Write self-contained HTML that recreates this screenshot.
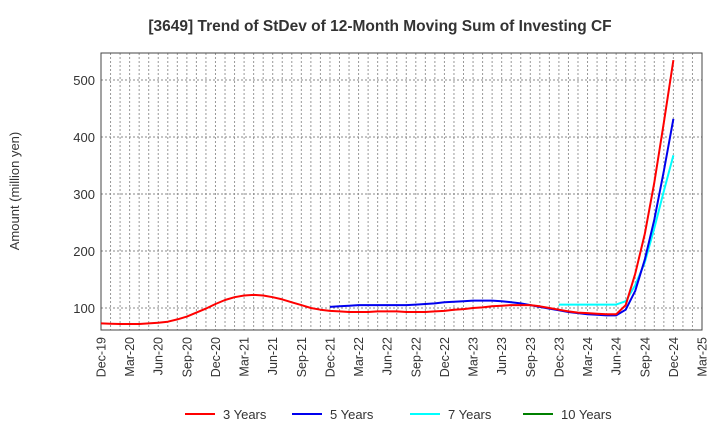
<!DOCTYPE html>
<html><head><meta charset="utf-8"><style>
body{margin:0;background:#fff;font-family:"Liberation Sans",Arial,sans-serif}
</style></head><body>
<svg id="chart" width="720" height="440" xmlns="http://www.w3.org/2000/svg" font-family="Liberation Sans, Arial, sans-serif">
<text x="380" y="31" text-anchor="middle" font-size="15.5" font-weight="bold" fill="#333">[3649]  Trend of StDev of 12-Month Moving Sum of Investing CF</text>
<text transform="translate(19,191) rotate(-90)" text-anchor="middle" font-size="13" fill="#333">Amount (million yen)</text>
<g id="grid"></g><g id="axes"></g><g id="series"></g><g id="legend"></g>
</svg>
<script>
const xLabels=["Dec-19","Mar-20","Jun-20","Sep-20","Dec-20","Mar-21","Jun-21","Sep-21","Dec-21","Mar-22","Jun-22","Sep-22","Dec-22","Mar-23","Jun-23","Sep-23","Dec-23","Mar-24","Jun-24","Sep-24","Dec-24","Mar-25"];
const yTicks=[100,200,300,400,500];
const s3=[73,72.5,72,72,72,73,74,76,80,85,92,99,107,114,119,122,123,122,119,115,110,105,100,97,95,94,93,93,93,94,94,94,93,93,93,94,95,97,98,100,101,103,104,105,105,105,103,100,97,94,92,91,90,89,89,105,160,230,320,425,535];
const s5=[102,103,104,105,105,105,105,105,105,106,107,108,110,111,112,113,113,113,112,110,108,105,102,99,96,93,91,89,88,87,87,97,130,185,255,340,432];
const s5Start=24;
const s7=[106,106,106,106,106,106,106,112,140,180,240,305,368];
const s7Start=48;
const L=101,R=702,T=53,B=330;
const x=m=>L+m*(R-L)/63;
const y=v=>365-v*0.57;
const NS="http://www.w3.org/2000/svg";
function mk(t,a,p){const e=document.createElementNS(NS,t);for(const k in a)e.setAttribute(k,a[k]);p.appendChild(e);return e;}
const g=document.getElementById('grid'),ax=document.getElementById('axes'),sg=document.getElementById('series'),lg=document.getElementById('legend');
for(let m=1;m<63;m++){const l=mk('line',{x1:x(m),x2:x(m),y1:T,y2:B,stroke:'#999','stroke-dasharray':'2,2','stroke-width':1},g);

}
yTicks.forEach(v=>{const l=mk('line',{x1:L,x2:R,y1:y(v),y2:y(v),stroke:'#888','stroke-dasharray':'2,2'},g);


const t=mk('text',{x:L-6,y:y(v)+5,'text-anchor':'end','font-size':13,fill:'#333'},ax);t.textContent=v;

});
const fr=mk('rect',{x:L,y:T,width:R-L,height:B-T,fill:'none',stroke:'#444','stroke-width':1},ax);


xLabels.forEach((s,i)=>{const px=x(i*3);const t=mk('text',{transform:`translate(${px+4.5},${B+7}) rotate(-90)`,'text-anchor':'end','font-size':12.5,fill:'#333'},ax);t.textContent=s;

});
function line(arr,start,col,name){const d=arr.map((v,i)=>(i?'L':'M')+x(start+i).toFixed(1)+','+y(v).toFixed(1)).join('');
const p=mk('path',{d:d,fill:'none',stroke:col,'stroke-width':2,'stroke-linejoin':'round'},sg);

}
line(s7,s7Start,'#00ffff','series-7-years');
line(s5,s5Start,'#0000ee','series-5-years');
line(s3,0,'#ff0000','series-3-years');
const leg=[["3 Years","#ff0000",185],["5 Years","#0000ee",292],["7 Years","#00ffff",410],["10 Years","#008000",523]];
leg.forEach(e=>{const gg=mk('g',{},lg);

mk('line',{x1:e[2],x2:e[2]+30,y1:414,y2:414,stroke:e[1],'stroke-width':2},gg);
const t=mk('text',{x:e[2]+38,y:419,'font-size':13,fill:'#333'},gg);t.textContent=e[0];});
</script>
</body></html>
